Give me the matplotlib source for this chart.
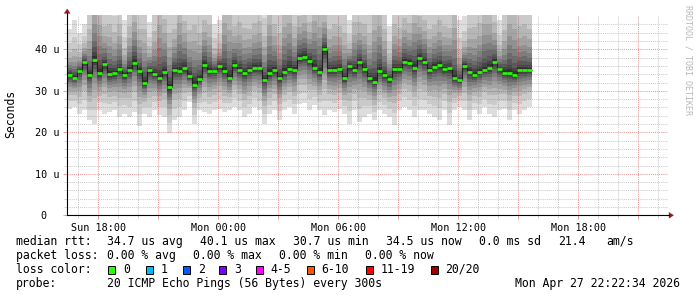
#!/usr/bin/env python3

import numpy as np
import matplotlib
matplotlib.use("Agg")
import matplotlib.pyplot as plt
from matplotlib.patches import Polygon, Rectangle
from matplotlib.lines import Line2D

W, H = 697, 297
MONO = "DejaVu Sans Mono"

# Time axis in hours since Sun 00:00, one sample every 15 minutes.
T_START = 16.435
T_END = 46.485
STEP_H = 0.25

# Median rtt per step (microseconds).
median = [
    33.8, 33.2, 34.7, 37.0, 33.8, 37.5, 34.2, 36.4, 34.0, 34.2, 35.2, 33.8,
    35.0, 36.8, 34.8, 31.8, 34.9, 34.0, 33.0, 34.5, 30.8, 35.0, 34.8, 35.5,
    33.5, 31.5, 32.8, 36.2, 34.8, 34.8, 36.0, 34.8, 33.2, 36.2, 35.0, 34.2,
    35.0, 35.5, 35.5, 32.5, 34.2, 35.0, 33.0, 34.5, 35.3, 35.0, 38.0, 38.2,
    37.3, 35.5, 34.5, 40.0, 35.0, 35.0, 35.3, 33.0, 36.0, 35.0, 37.0, 35.3,
    33.0, 32.2, 34.8, 33.7, 32.8, 35.2, 35.2, 37.0, 36.8, 35.5, 38.0,
    37.0, 35.0, 35.8, 36.2, 35.2, 35.5, 33.0, 32.5, 36.0, 34.5, 33.8, 34.6,
    35.0, 35.5, 37.0, 35.2, 34.4, 34.4, 33.8, 35.0, 35.0, 35.0,
]

# Fastest ping per step (lower edge of the smoke).
low = [
    25.7, 26.1, 24.5, 25.3, 22.9, 22.1, 25.3, 24.5, 24.9, 25.3, 23.7, 24.5,
    23.7, 24.9, 21.5, 24.5, 23.7, 25.3, 24.1, 23.7, 19.8, 22.9, 23.7, 25.3,
    27.3, 22.1, 25.3, 24.9, 24.5, 25.3, 25.7, 24.9, 25.3, 26.1, 25.3, 23.7,
    24.5, 26.1, 25.3, 22.1, 24.5, 25.3, 22.9, 25.3, 26.1, 24.5, 26.9, 27.0,
    25.3, 26.5, 25.3, 24.1, 25.3, 24.9, 25.7, 24.5, 22.1, 25.3, 22.5, 23.7,
    24.5, 22.9, 25.3, 24.5, 23.7, 21.7, 25.3, 26.1, 25.3, 23.7, 25.3,
    25.3, 24.5, 23.7, 22.9, 25.3, 21.7, 25.3, 26.1, 25.3, 22.9, 25.3, 24.5,
    26.1, 24.5, 23.7, 25.3, 25.7, 22.9, 25.3, 24.5, 25.3, 26.1,
]

# Slowest ping per step (upper edge of the smoke, often above the chart).
high = [
    45.0, 47.0, 44.0, 46.0, 56.0, 68.0, 66.0, 55.0, 58.0, 54.0, 57.0, 47.0,
    56.0, 63.0, 55.0, 58.0, 46.5, 55.0, 68.0, 60.0, 57.0, 55.0, 66.0, 58.0,
    56.0, 60.0, 55.0, 58.0, 57.0, 46.0, 47.0, 66.0, 64.0, 55.0, 58.0, 56.0,
    55.0, 57.0, 58.0, 54.0, 66.0, 57.0, 55.0, 64.0, 65.0, 56.0, 58.0, 60.0,
    56.0, 66.0, 64.0, 58.0, 55.0, 57.0, 56.0, 55.0, 47.0, 58.0, 56.0, 57.0,
    55.0, 66.0, 64.0, 56.0, 45.5, 57.0, 55.0, 58.0, 56.0, 65.0, 58.0,
    57.0, 55.0, 56.0, 58.0, 56.0, 55.0, 66.0, 47.0, 48.0, 56.0, 57.0, 58.0,
    65.0, 64.0, 56.0, 47.0, 55.0, 66.0, 64.0, 56.0, 57.0, 55.0,
]

y_ticks = [0, 10, 20, 30, 40]
y_tick_labels = ["0  ", "10 u", "20 u", "30 u", "40 u"]
x_ticks = [18, 21, 24, 27, 30, 33, 36, 39, 42, 45]
x_tick_labels = ["Sun 18:00", "", "Mon 00:00", "", "Mon 06:00", "",
                 "Mon 12:00", "", "Mon 18:00", ""]

legend_rows = [
    [(16, "median rtt:"), (107.3, "34.7 us avg"), (200, "40.1 us max"),
     (293.3, "30.7 us min"), (386, "34.5 us now"), (479.3, "0.0 ms sd"),
     (558.3, "21.4"), (606.7, "am/s")],
    [(16, "packet loss:"), (107.3, "0.00 % avg"), (193.3, "0.00 % max"),
     (279.3, "0.00 % min"), (365, "0.00 % now")],
    [(16, "loss color:")],
    [(16, "probe:"), (107.3, "20 ICMP Echo Pings (56 Bytes) every 300s")],
]
row_y = [241.3, 255.5, 269.5, 283.7]

loss_labels = ["0", "1", "2", "3", "4-5", "6-10", "11-19", "20/20"]
loss_colors = ["#26ff00", "#00b8ff", "#0059ff", "#7e00ff", "#ff00ff",
               "#ff5500", "#ff0000", "#a10000"]
loss_box_x = [108.3, 145.7, 182.7, 219.3, 256.0, 306.7, 366.0, 431.0]
loss_text_x = [123.3, 161.0, 197.7, 234.3, 270.7, 321.7, 380.7, 445.0]

timestamp = "Mon Apr 27 22:22:34 2026"


def fx(x):
    return x / W


def fy(y):
    return 1 - y / H


def main():
    fig = plt.figure(figsize=(W / 100, H / 100), dpi=100, facecolor="white")
    ax = fig.add_axes([fx(67), fy(215.3), (668 - 67) / W, (215.3 - 15) / H])
    ax.set_facecolor("white")

    med = np.array(median)
    lo = np.array(low)
    hi = np.array(high)
    edges = T_START + STEP_H * np.arange(len(med) + 1)

    # Smoke: ten nested bands, light outside, dark near the median.
    frac_lo = [1.0, 0.78, 0.6, 0.47, 0.37, 0.28, 0.2, 0.14, 0.09, 0.045]
    frac_hi = [1.0, 0.7, 0.5, 0.37, 0.28, 0.21, 0.15, 0.10, 0.06, 0.03]
    for i, (fl, fh) in enumerate(zip(frac_lo, frac_hi)):
        g = int(190 / 10 * (10 - (i + 1))) + 50
        shade = "#%02x%02x%02x" % (g, g, g)
        ax.stairs(med + fh * (hi - med), edges, baseline=med - fl * (med - lo),
                  fill=True, color=shade, linewidth=0, zorder=1)

    # Median line: dark connectors with green loss-colour dashes.
    ax.stairs(med, edges, baseline=None, color="#202020", linewidth=0.8,
              zorder=4)
    ax.hlines(med, edges[:-1], edges[1:], color="#26ff00", linewidth=1.9,
              zorder=5)

    ax.set_xlim(T_START, T_END)
    ax.set_ylim(0, 48.27)

    ax.set_xticks(x_ticks)
    ax.set_xticklabels(x_tick_labels, family=MONO, fontsize=7.3)
    ax.set_xticks(np.arange(17, 47, 1), minor=True)
    ax.set_yticks(y_ticks)
    ax.set_yticklabels(y_tick_labels, family=MONO, fontsize=7.3)
    ax.set_yticks(np.arange(2, 48, 2), minor=True)

    ax.tick_params(which="major", length=3, width=0.7, color="#e0a0a0",
                   pad=2.5, direction="out")
    ax.tick_params(which="minor", length=2, width=0.7, color="#d0d0d0",
                   direction="out")

    ax.set_axisbelow(False)
    ax.grid(which="minor", color="#808080", alpha=0.4, linewidth=0.75,
            linestyle=(0, (1, 1)))
    ax.grid(which="major", color="#d02020", alpha=0.45, linewidth=0.75,
            linestyle=(0, (1, 1)))

    for s in ax.spines.values():
        s.set_visible(False)

    fig.text(fx(10.8), fy(114), "Seconds", rotation=90, ha="center",
             va="center", family=MONO, fontsize=8.3, color="black")

    # Axis lines with arrow heads.
    fig.add_artist(Line2D([fx(67), fx(669)], [fy(215.3), fy(215.3)],
                          color="black", linewidth=0.8))
    fig.add_artist(Line2D([fx(67), fx(67)], [fy(215.3), fy(12.5)],
                          color="black", linewidth=0.8))
    arrow = "#8f1d1d"
    fig.add_artist(Polygon([(fx(64.3), fy(13.3)), (fx(70.0), fy(13.3)),
                            (fx(67.2), fy(9.0))], closed=True,
                           facecolor=arrow, edgecolor=arrow, linewidth=0.3))
    fig.add_artist(Polygon([(fx(669), fy(212.5)), (fx(669), fy(218.2)),
                            (fx(673.5), fy(215.3))], closed=True,
                           facecolor=arrow, edgecolor=arrow, linewidth=0.3))

    fig.text(fx(688), fy(60), "RRDTOOL / TOBI OETIKER", rotation=270,
             ha="center", va="center", family=MONO, fontsize=6,
             color="#b8b8b8")

    # Legend block.
    for y, row in zip(row_y, legend_rows):
        for x, txt in row:
            fig.text(fx(x), fy(y), txt, ha="left", va="center", family=MONO,
                     fontsize=8.3, color="black")
    for bx, tx, lab, col in zip(loss_box_x, loss_text_x, loss_labels,
                                loss_colors):
        fig.add_artist(Rectangle((fx(bx), fy(273.5)), 7 / W, 8 / H,
                                 facecolor=col, edgecolor="black",
                                 linewidth=0.7))
        fig.text(fx(tx), fy(row_y[2]), lab, ha="left", va="center",
                 family=MONO, fontsize=8.3, color="black")
    fig.text(fx(680), fy(row_y[3]), timestamp, ha="right", va="center",
             family=MONO, fontsize=8.3, color="black")

    fig.savefig("out.png", dpi=100, facecolor="white")


if __name__ == "__main__":
    main()
